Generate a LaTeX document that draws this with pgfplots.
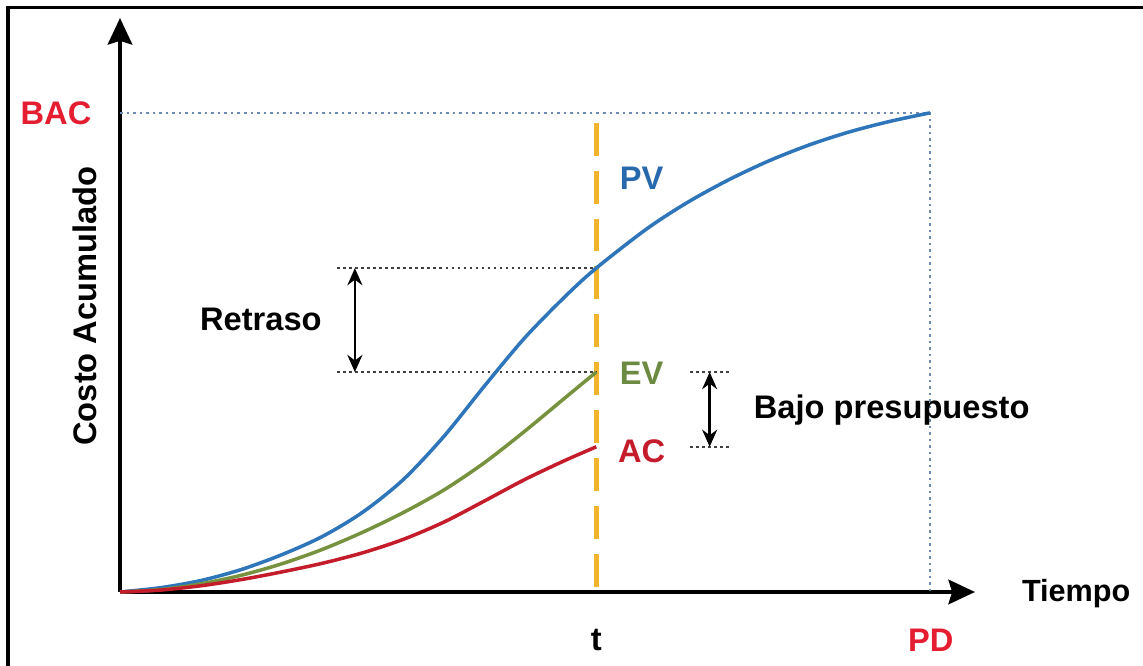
\documentclass[border=0pt]{standalone}
\usepackage{pgfplots}
\pgfplotsset{compat=1.18}
\usepackage{fontspec}
\setmainfont{Liberation Sans}
\usetikzlibrary{arrows.meta}

\definecolor{pvblue}{RGB}{46,117,186}
\definecolor{evgreen}{RGB}{118,146,62}
\definecolor{acred}{RGB}{196,28,42}
\definecolor{labred}{RGB}{228,30,48}
\definecolor{pvtext}{RGB}{40,104,172}
\definecolor{evtext}{RGB}{108,138,66}
\definecolor{tyellow}{RGB}{242,180,44}
\definecolor{bacdot}{RGB}{110,140,175}

\tikzset{
  lab/.style={font=\fontsize{13}{15}\selectfont\bfseries, inner sep=0pt},
  helper/.style={black!75, line width=0.7pt, dash pattern=on 1pt off 1.4pt},
  gap/.style={line width=1pt,
    {Stealth[length=0.24cm,width=0.21cm]}-{Stealth[length=0.24cm,width=0.21cm]}},
}

\begin{document}
\begin{tikzpicture}
\useasboundingbox (-1.68,-1.036) rectangle (14.322,8.288);
\begin{axis}[
  at={(0,0)}, anchor=south west,
  scale only axis,
  width=11.97cm, height=8.036cm,
  xmin=0, xmax=10.556, ymin=0, ymax=119.8,
  axis lines=left,
  axis line style={line width=1.8pt, black,
    -{Stealth[length=0.37cm,width=0.34cm,inset=0.05cm]}},
  xtick=\empty, ytick=\empty,
  clip=false,
]
% budget reference lines (BAC and planned duration)
\addplot[bacdot, line width=0.7pt, dash pattern=on 1pt off 1.6pt]
  coordinates {(0,100) (10,100) (10,0)};

% cut-off date t
\addplot[tyellow, line width=1.8pt, dash pattern=on 0.46cm off 0.21cm]
  coordinates {(5.88,97.9) (5.88,0)};

% helper lines for the two gaps
\addplot[helper] coordinates {(2.68,67.6) (5.88,67.6)};
\addplot[helper] coordinates {(2.68,45.9) (5.88,45.9)};
\addplot[helper] coordinates {(7.04,45.9) (7.53,45.9)};
\addplot[helper] coordinates {(7.04,30.3) (7.53,30.3)};

% planned value
\addplot[pvblue, line width=1.4pt, smooth] coordinates {
  (0,0) (0.5,0.9) (1,2.4) (1.5,4.7) (2,7.8) (2.5,11.6) (3,16.7)
  (3.5,23.5) (4,32.5) (4.5,43.0) (5,53.1) (5.5,61.75) (5.88,67.6)
  (6.5,75.75) (7,81.25) (7.5,85.9) (8,89.9) (8.5,93.25) (9,96.0)
  (9.5,98.2) (10,100)};
% earned value
\addplot[evgreen, line width=1.4pt, smooth] coordinates {
  (0,0) (0.5,0.5) (1,1.7) (1.5,3.5) (2,5.9) (2.5,8.9) (3,12.5)
  (3.5,16.6) (4,21.3) (4.5,27.0) (5,33.6) (5.5,40.6) (5.88,45.9)};
% actual cost
\addplot[acred, line width=1.4pt, smooth] coordinates {
  (0,0) (0.5,0.4) (1,1.3) (1.5,2.6) (2,4.2) (2.5,6.0) (3,8.2)
  (3.5,11.0) (4,14.6) (4.5,19.0) (5,23.5) (5.5,27.5) (5.88,30.3)};

% double arrows
\draw[gap] (axis cs:2.90,67.6) -- (axis cs:2.90,45.9);
\draw[gap] (axis cs:7.28,45.9) -- (axis cs:7.28,30.3);

% labels
\node[lab, labred] at (axis cs:-0.79,100) {BAC};
\node[lab, rotate=90] at (axis cs:-0.43,59.7) {Costo Acumulado};
\node[lab] at (axis cs:1.74,56.8) {Retraso};
\node[lab, anchor=west] at (axis cs:7.82,38.0) {Bajo presupuesto};
\node[lab, pvtext] at (axis cs:6.44,86.4) {PV};
\node[lab, evtext] at (axis cs:6.44,45.6) {EV};
\node[lab, acred] at (axis cs:6.44,29.4) {AC};
\node[lab] at (axis cs:5.88,-10.0) {t};
\node[lab, labred] at (axis cs:10.01,-10.0) {PD};
\node[lab, anchor=west, font=\fontsize{12.2}{14}\selectfont\bfseries]
  at (axis cs:11.13,-0.4) {Tiempo};
\end{axis}
% outer frame (top and left edges)
\draw[black, line width=1.2pt] (-1.568,-1.2) -- (-1.568,8.176) -- (14.5,8.176);
\end{tikzpicture}
\end{document}
